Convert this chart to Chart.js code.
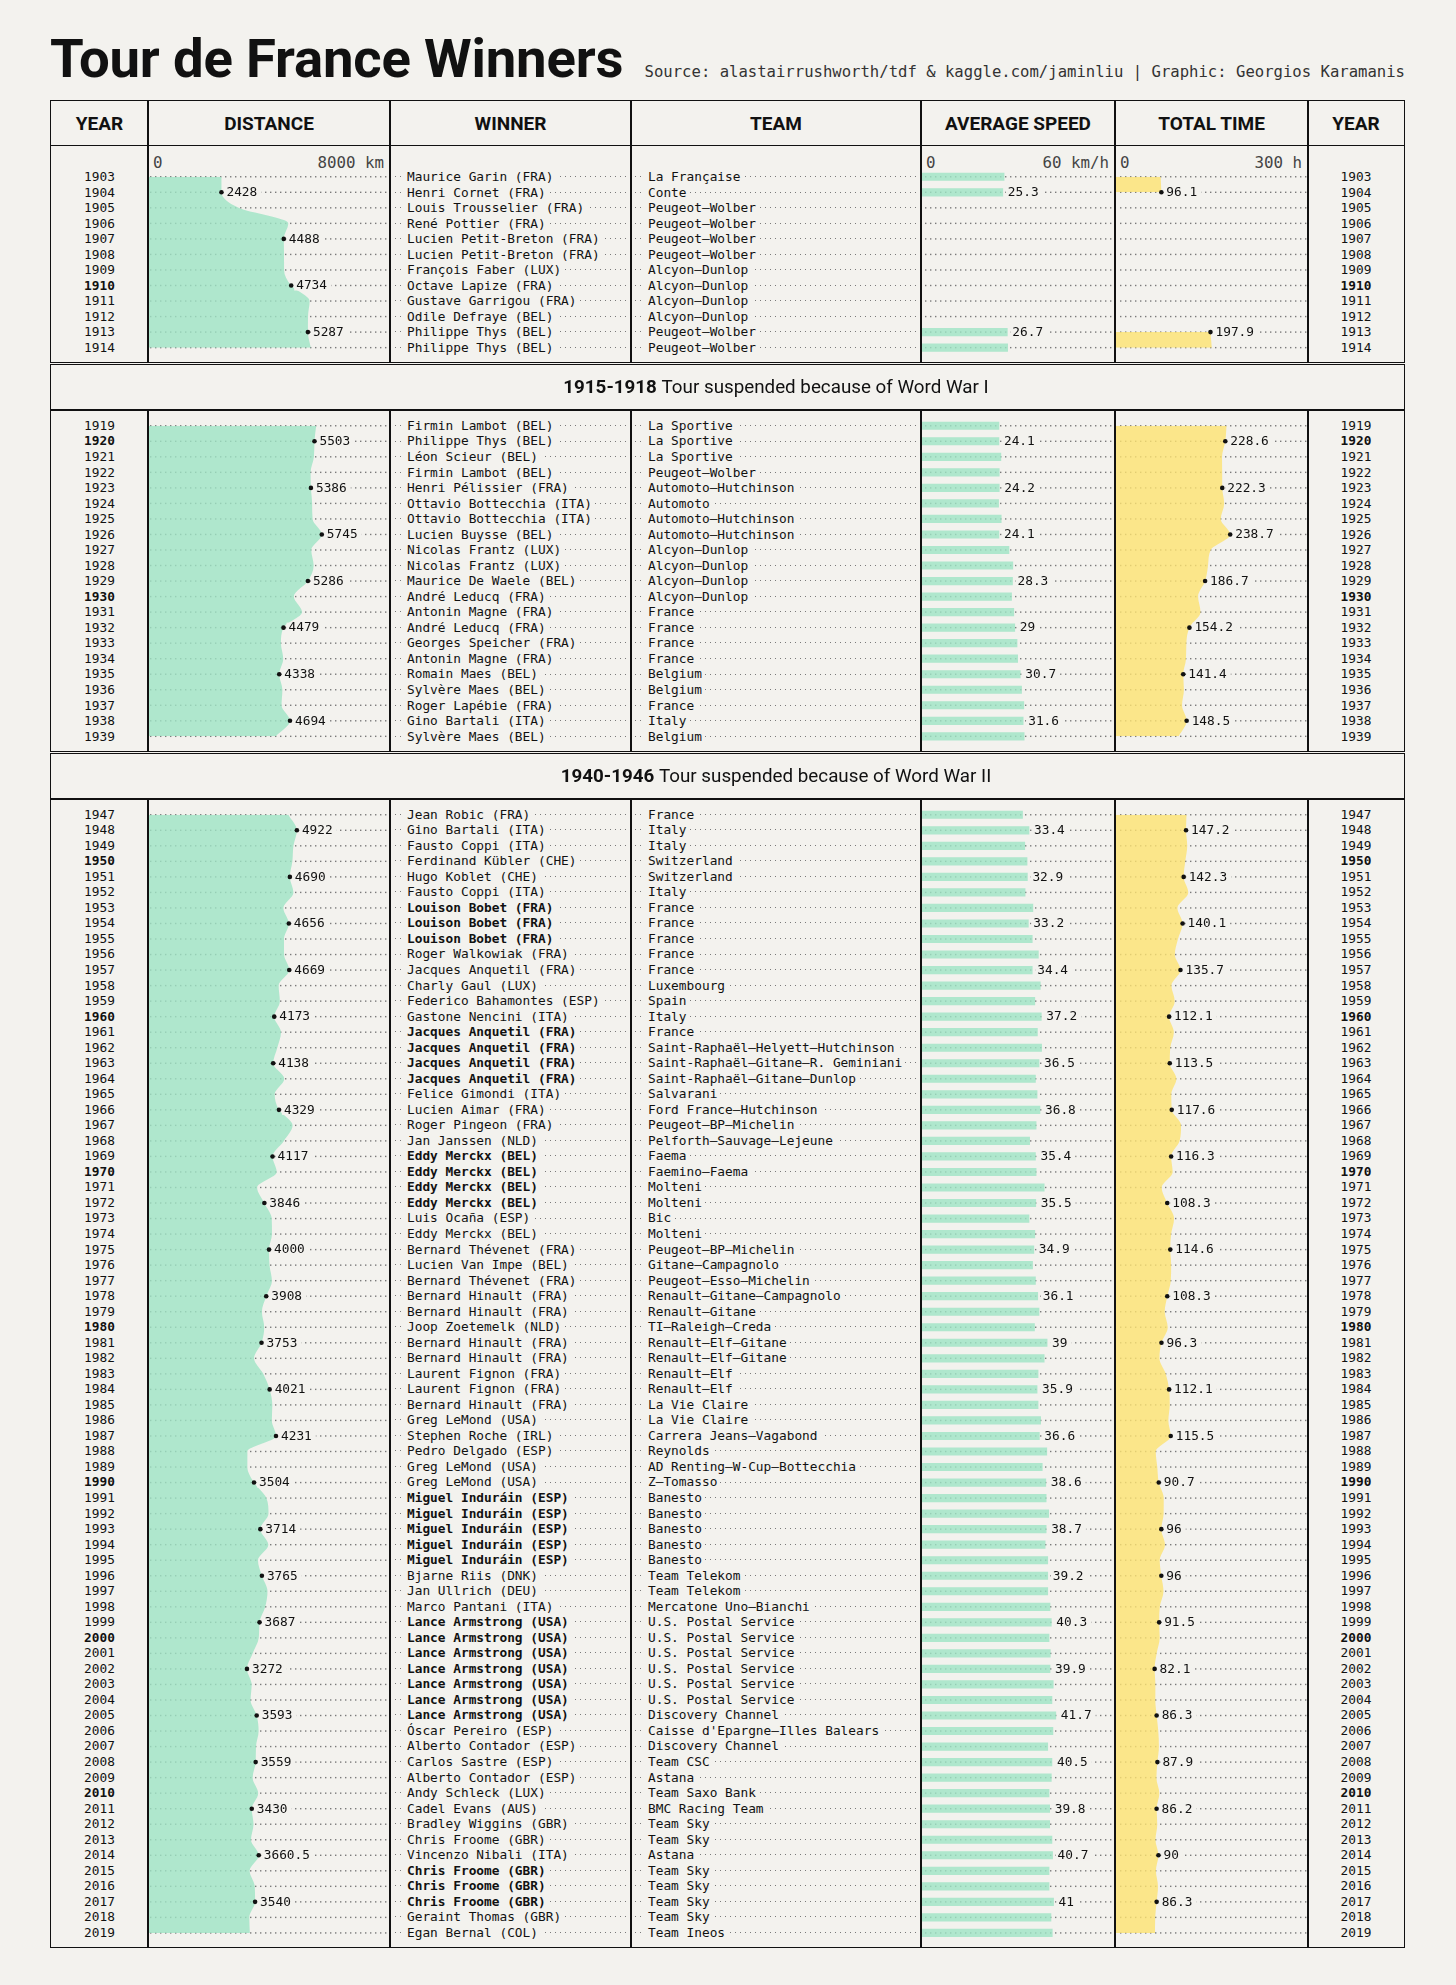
<!DOCTYPE html>
<html>
<head>
<meta charset="utf-8">
<title>Tour de France Winners</title>
<script src="https://cdn.jsdelivr.net/npm/chart.js@4.4.1/dist/chart.umd.min.js"></script>
<style>
  html, body { margin: 0; padding: 0; }
  body { width: 1456px; height: 1985px; background: #f3f2ee; position: relative; overflow: hidden; color: #111; font-family: "DejaVu Sans Mono", monospace; }
  #top { position: absolute; left: 50px; width: 1355px; top: 26px; display: flex; justify-content: space-between; align-items: baseline; }
  #title { font: 700 54.5px Roboto, sans-serif; letter-spacing: -0.2px; }
  #source { font: 15.6px "DejaVu Sans Mono", monospace; color: #333; }
  .box { position: absolute; left: 50px; width: 1355px; box-sizing: border-box; border: 1.5px solid #111; z-index: 3; }
  .vline { position: absolute; width: 1.5px; background: #111; z-index: 3; }
  .head { position: absolute; top: 100px; height: 46px; display: flex; align-items: center; justify-content: center; font: 700 19px Roboto, sans-serif; }
  .yr { position: absolute; text-align: center; font-size: 12.8px; }
  .txt { position: absolute; font-size: 12.8px; white-space: nowrap; overflow: hidden;
         background-image: linear-gradient(to right, #7a7a7a 1.4px, transparent 1.4px);
         background-size: 5px 1.4px; background-repeat: repeat-x; }
  .txt span { background: #f3f2ee; padding: 0 3px; margin-left: 14px; }
  .axl { position: absolute; font-size: 15.8px; line-height: 16px; color: #444; }
  .banner { position: absolute; left: 148px; width: 1256px; text-align: center; font: 18.8px Roboto, sans-serif; display: flex; align-items: center; justify-content: center; z-index: 4; }
  .cbox { position: absolute; z-index: 1; }
</style>
</head>
<body>
<div id="top">
  <div id="title">Tour de France Winners</div>
  <div id="source">Source: alastairrushworth/tdf &amp; kaggle.com/jaminliu | Graphic: Georgios Karamanis</div>
</div>
<script>
// ---- data ----
const years = [
  1903, 1904, 1905, 1906, 1907, 1908, 1909, 1910, 1911, 1912, 1913, 1914,
  1919, 1920, 1921, 1922, 1923, 1924, 1925, 1926, 1927, 1928, 1929, 1930,
  1931, 1932, 1933, 1934, 1935, 1936, 1937, 1938, 1939,
  1947, 1948, 1949, 1950, 1951, 1952, 1953, 1954, 1955, 1956, 1957, 1958, 1959,
  1960, 1961, 1962, 1963, 1964, 1965, 1966, 1967, 1968, 1969,
  1970, 1971, 1972, 1973, 1974, 1975, 1976, 1977, 1978, 1979,
  1980, 1981, 1982, 1983, 1984, 1985, 1986, 1987, 1988, 1989,
  1990, 1991, 1992, 1993, 1994, 1995, 1996, 1997, 1998, 1999,
  2000, 2001, 2002, 2003, 2004, 2005, 2006, 2007, 2008, 2009,
  2010, 2011, 2012, 2013, 2014, 2015, 2016, 2017, 2018, 2019
];

const winners = [
  'Maurice Garin (FRA)', 'Henri Cornet (FRA)', 'Louis Trousselier (FRA)', 'René Pottier (FRA)',
  'Lucien Petit-Breton (FRA)', 'Lucien Petit-Breton (FRA)', 'François Faber (LUX)', 'Octave Lapize (FRA)',
  'Gustave Garrigou (FRA)', 'Odile Defraye (BEL)', 'Philippe Thys (BEL)', 'Philippe Thys (BEL)',
  'Firmin Lambot (BEL)', 'Philippe Thys (BEL)', 'Léon Scieur (BEL)', 'Firmin Lambot (BEL)',
  'Henri Pélissier (FRA)', 'Ottavio Bottecchia (ITA)', 'Ottavio Bottecchia (ITA)', 'Lucien Buysse (BEL)',
  'Nicolas Frantz (LUX)', 'Nicolas Frantz (LUX)', 'Maurice De Waele (BEL)', 'André Leducq (FRA)',
  'Antonin Magne (FRA)', 'André Leducq (FRA)', 'Georges Speicher (FRA)', 'Antonin Magne (FRA)',
  'Romain Maes (BEL)', 'Sylvère Maes (BEL)', 'Roger Lapébie (FRA)', 'Gino Bartali (ITA)', 'Sylvère Maes (BEL)',
  'Jean Robic (FRA)', 'Gino Bartali (ITA)', 'Fausto Coppi (ITA)', 'Ferdinand Kübler (CHE)',
  'Hugo Koblet (CHE)', 'Fausto Coppi (ITA)', 'Louison Bobet (FRA)', 'Louison Bobet (FRA)',
  'Louison Bobet (FRA)', 'Roger Walkowiak (FRA)', 'Jacques Anquetil (FRA)', 'Charly Gaul (LUX)',
  'Federico Bahamontes (ESP)', 'Gastone Nencini (ITA)', 'Jacques Anquetil (FRA)', 'Jacques Anquetil (FRA)',
  'Jacques Anquetil (FRA)', 'Jacques Anquetil (FRA)', 'Felice Gimondi (ITA)', 'Lucien Aimar (FRA)',
  'Roger Pingeon (FRA)', 'Jan Janssen (NLD)', 'Eddy Merckx (BEL)', 'Eddy Merckx (BEL)',
  'Eddy Merckx (BEL)', 'Eddy Merckx (BEL)', 'Luis Ocaña (ESP)', 'Eddy Merckx (BEL)',
  'Bernard Thévenet (FRA)', 'Lucien Van Impe (BEL)', 'Bernard Thévenet (FRA)', 'Bernard Hinault (FRA)',
  'Bernard Hinault (FRA)', 'Joop Zoetemelk (NLD)', 'Bernard Hinault (FRA)', 'Bernard Hinault (FRA)',
  'Laurent Fignon (FRA)', 'Laurent Fignon (FRA)', 'Bernard Hinault (FRA)', 'Greg LeMond (USA)',
  'Stephen Roche (IRL)', 'Pedro Delgado (ESP)', 'Greg LeMond (USA)', 'Greg LeMond (USA)',
  'Miguel Induráin (ESP)', 'Miguel Induráin (ESP)', 'Miguel Induráin (ESP)', 'Miguel Induráin (ESP)',
  'Miguel Induráin (ESP)', 'Bjarne Riis (DNK)', 'Jan Ullrich (DEU)', 'Marco Pantani (ITA)',
  'Lance Armstrong (USA)', 'Lance Armstrong (USA)', 'Lance Armstrong (USA)', 'Lance Armstrong (USA)',
  'Lance Armstrong (USA)', 'Lance Armstrong (USA)', 'Lance Armstrong (USA)', 'Óscar Pereiro (ESP)',
  'Alberto Contador (ESP)', 'Carlos Sastre (ESP)', 'Alberto Contador (ESP)', 'Andy Schleck (LUX)',
  'Cadel Evans (AUS)', 'Bradley Wiggins (GBR)', 'Chris Froome (GBR)', 'Vincenzo Nibali (ITA)',
  'Chris Froome (GBR)', 'Chris Froome (GBR)', 'Chris Froome (GBR)', 'Geraint Thomas (GBR)', 'Egan Bernal (COL)'
];

const teams = [
  'La Française', 'Conte', 'Peugeot–Wolber', 'Peugeot–Wolber', 'Peugeot–Wolber', 'Peugeot–Wolber',
  'Alcyon–Dunlop', 'Alcyon–Dunlop', 'Alcyon–Dunlop', 'Alcyon–Dunlop', 'Peugeot–Wolber', 'Peugeot–Wolber',
  'La Sportive', 'La Sportive', 'La Sportive', 'Peugeot–Wolber', 'Automoto–Hutchinson', 'Automoto',
  'Automoto–Hutchinson', 'Automoto–Hutchinson', 'Alcyon–Dunlop', 'Alcyon–Dunlop', 'Alcyon–Dunlop',
  'Alcyon–Dunlop', 'France', 'France', 'France', 'France', 'Belgium', 'Belgium', 'France', 'Italy', 'Belgium',
  'France', 'Italy', 'Italy', 'Switzerland', 'Switzerland', 'Italy', 'France', 'France', 'France', 'France',
  'France', 'Luxembourg', 'Spain', 'Italy', 'France', 'Saint-Raphaël–Helyett–Hutchinson',
  'Saint-Raphaël–Gitane–R. Geminiani', 'Saint-Raphaël–Gitane–Dunlop', 'Salvarani', 'Ford France–Hutchinson',
  'Peugeot–BP–Michelin', 'Pelforth–Sauvage–Lejeune', 'Faema', 'Faemino–Faema', 'Molteni', 'Molteni', 'Bic',
  'Molteni', 'Peugeot–BP–Michelin', 'Gitane–Campagnolo', 'Peugeot–Esso–Michelin', 'Renault–Gitane–Campagnolo',
  'Renault–Gitane', 'TI–Raleigh–Creda', 'Renault–Elf–Gitane', 'Renault–Elf–Gitane', 'Renault–Elf',
  'Renault–Elf', 'La Vie Claire', 'La Vie Claire', 'Carrera Jeans–Vagabond', 'Reynolds',
  'AD Renting–W-Cup–Bottecchia', 'Z–Tomasso', 'Banesto', 'Banesto', 'Banesto', 'Banesto', 'Banesto',
  'Team Telekom', 'Team Telekom', 'Mercatone Uno–Bianchi', 'U.S. Postal Service', 'U.S. Postal Service',
  'U.S. Postal Service', 'U.S. Postal Service', 'U.S. Postal Service', 'U.S. Postal Service',
  'Discovery Channel', "Caisse d'Epargne–Illes Balears", 'Discovery Channel', 'Team CSC', 'Astana',
  'Team Saxo Bank', 'BMC Racing Team', 'Team Sky', 'Team Sky', 'Astana', 'Team Sky', 'Team Sky',
  'Team Sky', 'Team Sky', 'Team Ineos'
];

// km
const distance = [
  2428, 2428, 2994, 4637, 4488, 4497, 4498, 4734, 5343, 5289, 5287, 5380,
  5560, 5503, 5485, 5375, 5386, 5425, 5440, 5745, 5398, 5476, 5286, 4822,
  5091, 4479, 4395, 4470, 4338, 4442, 4415, 4694, 4224,
  4640, 4922, 4808, 4773, 4690, 4807, 4476, 4656, 4495, 4498, 4669, 4319, 4358,
  4173, 4397, 4274, 4138, 4504, 4188, 4329, 4779, 4492, 4117,
  4254, 3608, 3846, 4090, 4098, 4000, 4017, 4096, 3908, 3765,
  3842, 3753, 3507, 3809, 4021, 4109, 4094, 4231, 3286, 3285,
  3504, 3914, 3983, 3714, 3978, 3635, 3765, 3950, 3875, 3687,
  3662, 3458, 3272, 3427, 3391, 3593, 3657, 3570, 3559, 3459,
  3642, 3430, 3488, 3404, 3660.5, 3360.3, 3529, 3540, 3349, 3365.8
];

// km/h
const speed = [
  25.7, 25.3, null, null, null, null, null, null, null, null, 26.7, 26.8,
  24.1, 24.1, 24.7, 24.2, 24.2, 24.0, 24.8, 24.1, 27.2, 28.4, 28.3, 28.0,
  28.7, 29.0, 29.7, 29.9, 30.7, 31.1, 31.8, 31.6, 31.9,
  31.4, 33.4, 32.1, 32.8, 32.9, 32.2, 34.6, 33.2, 34.4, 36.3, 34.4, 36.9, 35.2,
  37.2, 36.0, 37.3, 36.5, 35.4, 35.9, 36.8, 35.6, 33.6, 35.4,
  35.6, 38.1, 35.5, 33.4, 35.2, 34.9, 34.5, 35.4, 36.1, 36.5,
  35.1, 39.0, 38.1, 36.2, 35.9, 36.2, 37.0, 36.6, 38.9, 37.5,
  38.6, 38.7, 39.5, 38.7, 38.4, 39.2, 39.2, 39.2, 39.9, 40.3,
  39.6, 40.0, 39.9, 40.9, 40.5, 41.7, 40.8, 39.2, 40.5, 40.3,
  39.6, 39.8, 39.8, 40.5, 40.7, 39.6, 39.6, 41.0, 40.2, 40.6
];

// hours
const totalTime = [
  94.6, 96.1, null, null, null, null, null, null, null, null, 197.9, 200.5,
  231.1, 228.6, 221.8, 222.1, 222.3, 226.3, 219.2, 238.7, 198.3, 192.8, 186.7, 172.2,
  177.2, 154.2, 147.9, 147.2, 141.4, 142.8, 138.9, 148.5, 132.1,
  148.2, 147.2, 149.7, 145.6, 142.3, 151.9, 129.4, 140.1, 130.5, 124.0, 135.7, 116.9, 123.8,
  112.1, 122.0, 114.5, 113.5, 127.2, 116.7, 117.6, 136.9, 133.8, 116.3,
  119.5, 96.8, 108.3, 122.4, 116.3, 114.6, 116.4, 115.6, 108.3, 103.1,
  109.3, 96.3, 92.1, 105.1, 112.1, 113.4, 110.6, 115.5, 84.5, 87.6,
  90.7, 101.0, 100.8, 96.0, 103.6, 92.7, 96.0, 100.5, 92.8, 91.5,
  92.6, 86.3, 82.1, 83.7, 83.6, 86.3, 89.7, 91.0, 87.9, 85.8,
  91.9, 86.2, 87.6, 83.9, 90.0, 84.8, 89.1, 86.3, 83.3, 82.9
];

const headers = ['YEAR', 'DISTANCE', 'WINNER', 'TEAM', 'AVERAGE SPEED', 'TOTAL TIME', 'YEAR'];
const axisTicks = [['0', '8000 km'], ['0', '60 km/h'], ['0', '300 h']];
const breaks = [
  ['1915-1918', 'Tour suspended because of Word War I'],
  ['1940-1946', 'Tour suspended because of Word War II']
];

// ---- layout ----
const R = 15.53;
const COLS = [51, 148, 390, 631, 921, 1115, 1308, 1404];
const INK = '#111';
const BG = '#f3f2ee';
const DOT = '#7a7a7a';
const MINT = 'rgba(157,227,196,0.8)';
const SUN = 'rgba(252,226,113,0.8)';
const MONO = '12.8px "DejaVu Sans Mono"';

function el(cls, css, html) {
  const d = document.createElement('div');
  if (cls) d.className = cls;
  Object.assign(d.style, css);
  if (html !== undefined) d.innerHTML = html;
  document.body.appendChild(d);
  return d;
}
const px = v => v + 'px';

function frame(top, bottom, noTop) {
  el('box', { top: px(top), height: px(bottom - top), borderTop: noTop ? 'none' : '' });
  for (let c = 1; c < COLS.length - 1; c++) {
    el('vline', { left: px(COLS[c] - 0.75), top: px(top), height: px(bottom - top) });
  }
}

// header row
frame(100, 146);
headers.forEach((h, c) => {
  el('head', { left: px(COLS[c]), width: px(COLS[c + 1] - COLS[c]) }, h);
});

// sections split where years jump
const sections = [];
years.forEach((yr, i) => {
  if (i === 0 || yr - years[i - 1] > 1) sections.push([]);
  sections[sections.length - 1].push(i);
});

// winner runs of 3+ in a row are bold
const boldWinner = winners.map((w, i) => {
  let a = i, b = i;
  while (a > 0 && winners[a - 1] === w && years[a] - years[a - 1] === 1) a--;
  while (b < winners.length - 1 && winners[b + 1] === w && years[b + 1] - years[b] === 1) b++;
  return b - a + 1 >= 3;
});

const rowDots = {
  id: 'rowDots',
  beforeDatasetsDraw(chart, args, opts) {
    const { ctx, chartArea: a, scales: { y } } = chart;
    const phase = opts.phase || 0;
    ctx.save();
    ctx.fillStyle = DOT;
    chart.data.labels.forEach((_, i) => {
      const py = y.getPixelForValue(i);
      for (let x = a.left + phase; x < a.right - 2; x += 5) {
        if (x < a.left + 2) continue;
        ctx.fillRect(x, py - 0.7, 1.4, 1.4);
      }
    });
    ctx.restore();
  }
};

function valueLabels(flags) {
  return {
    id: 'valueLabels',
    afterDatasetsDraw(chart) {
      const { ctx } = chart;
      const meta = chart.getDatasetMeta(0);
      const data = chart.data.datasets[0].data;
      ctx.save();
      ctx.font = MONO;
      ctx.textBaseline = 'middle';
      meta.data.forEach((pt, i) => {
        const v = data[i];
        if (v == null || !flags[i]) return;
        const txt = String(v);
        const w = ctx.measureText(txt).width;
        const x = pt.x + 5;
        ctx.fillStyle = BG;
        ctx.fillRect(x - 2, pt.y - 5, w + 6, 10);
        ctx.fillStyle = INK;
        ctx.fillText(txt, x, pt.y + 0.5);
      });
      ctx.restore();
    }
  };
}

function makeChart(col, top, labels, values, flags, kind, max, color) {
  const left = COLS[col];
  const width = COLS[col + 1] - left;
  const box = el('cbox', { left: px(left), top: px(top), width: px(width), height: px(labels.length * R) });
  const cv = document.createElement('canvas');
  box.appendChild(cv);
  const ds = kind === 'bar'
    ? { data: values, backgroundColor: color, barThickness: 7.5, borderWidth: 0 }
    : {
        data: values, fill: 'origin', backgroundColor: color, borderColor: 'rgba(0,0,0,0)', borderWidth: 0,
        cubicInterpolationMode: 'monotone', spanGaps: false,
        pointRadius: c => (flags[c.dataIndex] && values[c.dataIndex] != null) ? 2.3 : 0,
        pointBackgroundColor: INK, pointBorderWidth: 0
      };
  new Chart(cv, {
    type: kind,
    data: { labels, datasets: [ds] },
    options: {
      indexAxis: 'y',
      responsive: true,
      maintainAspectRatio: false,
      animation: false,
      events: [],
      layout: { padding: 0 },
      plugins: {
        legend: { display: false },
        tooltip: { enabled: false },
        rowDots: { phase: (5 - left % 5) % 5 }
      },
      scales: {
        x: { type: 'linear', min: 0, max, display: false },
        y: { type: 'category', offset: true, display: false }
      }
    },
    plugins: [rowDots, valueLabels(flags)]
  });
}

let y = 146;
sections.forEach((idx, s) => {
  const top = y;
  const rowsTop = top + (s === 0 ? 23 : 7.6);
  const bottom = rowsTop + idx.length * R + 8;
  frame(top, bottom, s === 0);

  if (s === 0) {
    [1, 4, 5].forEach((c, k) => {
      el('axl', { left: px(COLS[c] + 5), top: px(top + 8.5) }, axisTicks[k][0]);
      el('axl', { left: px(COLS[c]), width: px(COLS[c + 1] - COLS[c] - 6), textAlign: 'right', top: px(top + 8.5) }, axisTicks[k][1]);
    });
  }

  idx.forEach((g, r) => {
    const t = px(rowsTop + r * R);
    const yrCss = { top: t, height: px(R), lineHeight: px(R), fontWeight: years[g] % 10 === 0 ? '700' : '400' };
    el('yr', Object.assign({ left: px(COLS[0]), width: px(COLS[1] - COLS[0]) }, yrCss), years[g]);
    el('yr', Object.assign({ left: px(COLS[6]), width: px(COLS[7] - COLS[6]) }, yrCss), years[g]);
    [[2, winners[g], boldWinner[g]], [3, teams[g], false]].forEach(([c, text, bold]) => {
      const L = COLS[c];
      el('txt', {
        left: px(L), width: px(COLS[c + 1] - L), top: t, height: px(R), lineHeight: px(R),
        backgroundPosition: px((5 - L % 5) % 5) + ' 50%', fontWeight: bold ? '700' : '400'
      }, '<span>' + text + '</span>');
    });
  });

  const labels = idx.map(g => String(years[g]));
  const flags = idx.map(g => g % 3 === 1);
  makeChart(1, rowsTop, labels, idx.map(g => distance[g]), flags, 'line', 8000, MINT);
  makeChart(4, rowsTop, labels, idx.map(g => speed[g]), flags, 'bar', 60, MINT);
  makeChart(5, rowsTop, labels, idx.map(g => totalTime[g]), flags, 'line', 400, SUN);

  y = bottom;
  if (s < breaks.length) {
    el('box', { top: px(y + 1), height: px(46) });
    el('banner', { top: px(y + 1), height: px(46) }, '<b>' + breaks[s][0] + '</b>&nbsp;' + breaks[s][1]);
    y += 47;
  }
});
</script>
</body>
</html>
